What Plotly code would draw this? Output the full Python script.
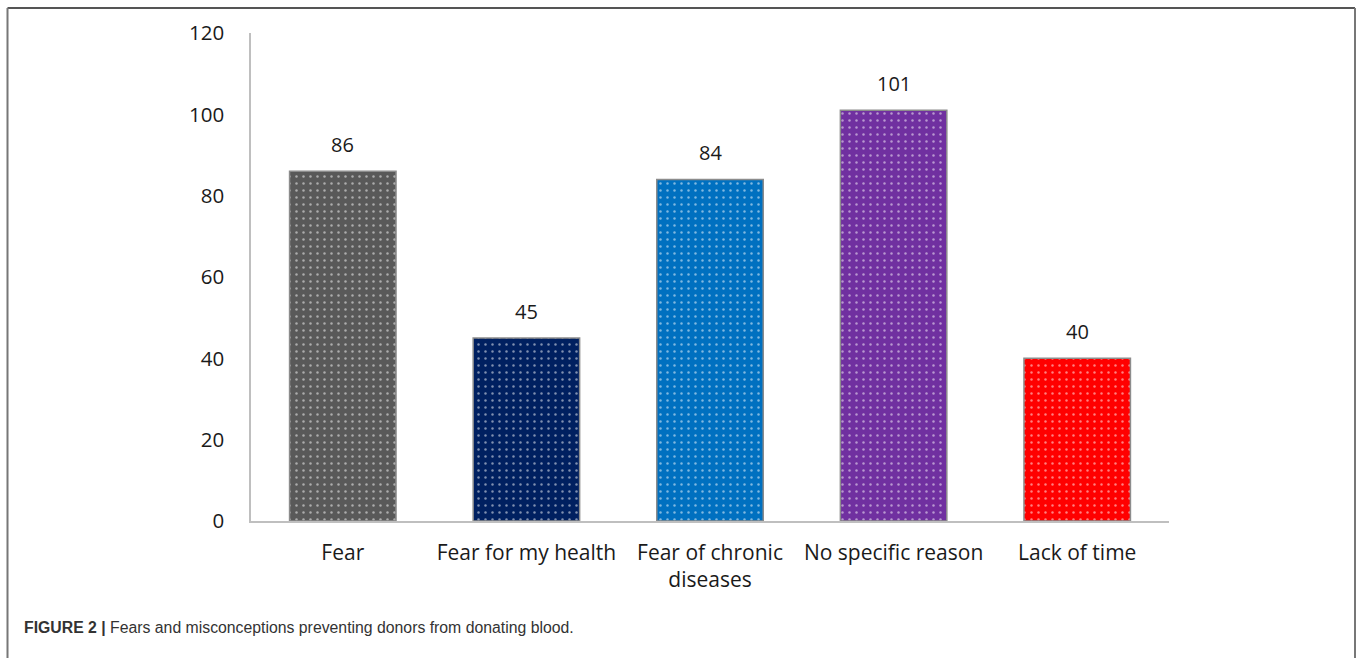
import plotly.graph_objects as go

# Reasons given for not donating blood and how many respondents chose each
categories = ["Fear", "Fear for my health", "Fear of chronic<br>diseases",
              "No specific reason", "Lack of time"]
counts = [86, 45, 84, 101, 40]
bar_colors = ["#595959", "#002060", "#0070C0", "#7030A0", "#FF0000"]
y_ticks = [0, 20, 40, 60, 80, 100, 120]

W, H = 1358, 658
L, R, T, B = 251, 1358 - 1169, 33, 658 - 521
pw, ph = W - L - R, H - T - B

fig = go.Figure()
fig.add_trace(go.Bar(
    x=categories,
    y=counts,
    width=0.58,
    marker=dict(
        color=bar_colors,
        line=dict(color="#8C8C8C", width=1.5),
        pattern=dict(shape=".", fgcolor="white", fillmode="overlay",
                     size=7, solidity=0.1),
    ),
    hoverinfo="x+y",
))

# value labels above each bar
for cat, val in zip(categories, counts):
    fig.add_annotation(x=cat, y=val, text=str(val), showarrow=False,
                       yanchor="bottom", yshift=11,
                       font=dict(family="Open Sans", size=20, color="#1a1a1a"))

# thin figure frame around the whole panel
def px_x(v):
    return (v - L) / pw

def px_y(v):
    return (H - B - v) / ph

fig.add_shape(type="line", xref="paper", yref="paper",
              x0=px_x(7.5), x1=px_x(1355), y0=px_y(8), y1=px_y(8),
              line=dict(color="#555", width=2))
fig.add_shape(type="line", xref="paper", yref="paper",
              x0=px_x(7.5), x1=px_x(7.5), y0=px_y(8), y1=px_y(662),
              line=dict(color="#777", width=2))
fig.add_shape(type="line", xref="paper", yref="paper",
              x0=px_x(1355), x1=px_x(1355), y0=px_y(8), y1=px_y(662),
              line=dict(color="#777", width=2))

# caption
fig.add_annotation(
    xref="paper", yref="paper", x=px_x(22), y=px_y(627),
    xanchor="left", yanchor="middle", showarrow=False,
    text="<b>FIGURE 2 |</b> Fears and misconceptions preventing donors from donating blood.",
    font=dict(family="Liberation Sans, Arial", size=15.8, color="#333"),
)

fig.update_layout(
    width=W, height=H,
    margin=dict(l=L, r=R, t=T, b=B),
    paper_bgcolor="white", plot_bgcolor="white",
    showlegend=False,
    font=dict(family="Open Sans", size=18, color="#1a1a1a"),
)
fig.update_yaxes(range=[0, 120], tickvals=y_ticks, showgrid=False,
                 zeroline=False, showline=True, linecolor="#BFBFBF",
                 linewidth=1.5, ticks="", ticklabelstandoff=21,
                 tickfont=dict(size=20.5))
fig.update_xaxes(showgrid=False, showline=True, linecolor="#BFBFBF",
                 linewidth=1.5, ticks="", ticklabelstandoff=12,
                 tickfont=dict(size=21))

fig.write_html("out.html")
